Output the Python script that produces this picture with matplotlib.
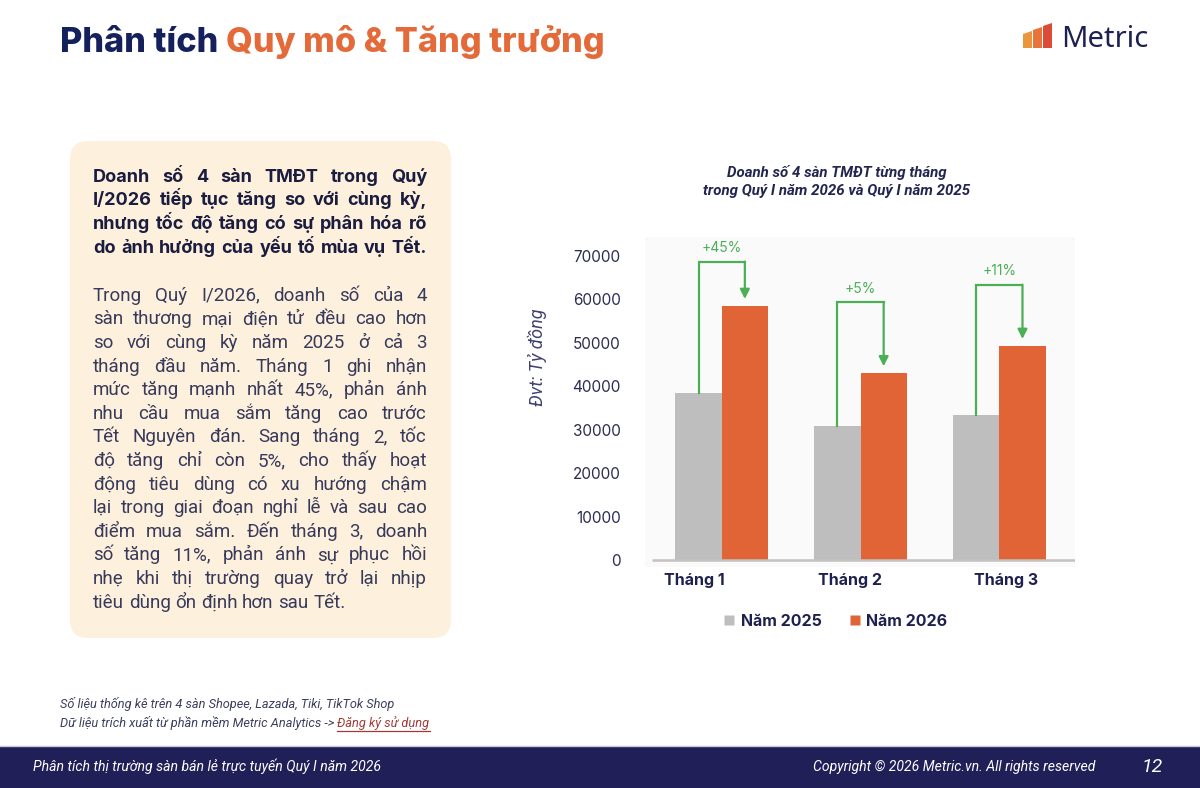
import matplotlib
matplotlib.use("Agg")
import matplotlib.pyplot as plt
import numpy as np
from matplotlib.patches import FancyBboxPatch, Rectangle, Polygon
from matplotlib.lines import Line2D

# ---------------- data ----------------
months = ["Tháng 1", "Tháng 2", "Tháng 3"]
sales_2025 = [38500, 30900, 33500]
sales_2026 = [58500, 43000, 49300]
growth_labels = ["+45%", "+5%", "+11%"]
series_names = ["Năm 2025", "Năm 2026"]
y_ticks = [0, 10000, 20000, 30000, 40000, 50000, 60000, 70000]

title_part1 = "Phân tích "
title_part2 = "Quy mô & Tăng trưởng"
chart_title_lines = ["Doanh số 4 sàn TMĐT từng tháng",
                     "trong Quý I năm 2026 và Quý I năm 2025"]
y_label = "Đvt: Tỷ đồng"
heading_lines = [
    "Doanh số 4 sàn TMĐT trong Quý",
    "I/2026 tiếp tục tăng so với cùng kỳ,",
    "nhưng tốc độ tăng có sự phân hóa rõ",
    "do ảnh hưởng của yếu tố mùa vụ Tết.",
]
body_lines = [
    "Trong Quý I/2026, doanh số của 4",
    "sàn thương mại điện tử đều cao hơn",
    "so với cùng kỳ năm 2025 ở cả 3",
    "tháng đầu năm. Tháng 1 ghi nhận",
    "mức tăng mạnh nhất 45%, phản ánh",
    "nhu cầu mua sắm tăng cao trước",
    "Tết Nguyên đán. Sang tháng 2, tốc",
    "độ tăng chỉ còn 5%, cho thấy hoạt",
    "động tiêu dùng có xu hướng chậm",
    "lại trong giai đoạn nghỉ lễ và sau cao",
    "điểm mua sắm. Đến tháng 3, doanh",
    "số tăng 11%, phản ánh sự phục hồi",
    "nhẹ khi thị trường quay trở lại nhịp",
    "tiêu dùng ổn định hơn sau Tết.",
]
note1 = "Số liệu thống kê trên 4 sàn Shopee, Lazada, Tiki, TikTok Shop"
note2 = "Dữ liệu trích xuất từ phần mềm Metric Analytics -> "
note_link = "Đăng ký sử dụng"
footer_left = "Phân tích thị trường sàn bán lẻ trực tuyến Quý I năm 2026"
footer_right = "Copyright © 2026 Metric.vn. All rights reserved"
page_no = "12"
brand = "Metric"

# ---------------- layout / style ----------------
NAVY = "#14215c"
ORANGE = "#e46a3a"
BAR_ORANGE = "#e06436"
BAR_GRAY = "#bebebe"
GREEN = "#4caf55"
CREAM = "#fdf0dc"
FOOT = "#211f57"
SANS = ["Inter", "DejaVu Sans"]
ITAL = ["Roboto", "DejaVu Sans"]
BODY = ["Roboto", "DejaVu Sans"]

bracket_top = [68700, 59300, 63400]   # annotation bracket heights (layout)
label_dx = [-0.20, -0.077, 0.048]     # x tick label offsets (layout)

W, H = 1200, 788
fig = plt.figure(figsize=(W / 100, H / 100), dpi=100)
fig.patch.set_facecolor("white")
ov = fig.add_axes([0, 0, 1, 1], zorder=0)
ov.set_xlim(0, W)
ov.set_ylim(H, 0)
ov.axis("off")
renderer = fig.canvas.get_renderer()


def width(t):
    return t.get_window_extent(renderer).width


# ---- title ----
t1 = ov.text(60, 52, title_part1, color=NAVY, fontsize=24, fontweight="heavy",
             family=SANS, va="baseline", ha="left")
t2 = ov.text(0, 52, title_part2, color=ORANGE, fontsize=24, fontweight="heavy",
             family=SANS, va="baseline", ha="left")
tot = width(t1) + width(t2)
fs = 24 * 544 / tot
t1.set_fontsize(fs)
t2.set_fontsize(fs)
t2.set_x(60 + width(t1))

# ---- logo ----
logo_cols = ["#e9963d", "#e8733b", "#dc4b35"]
logo_x = [1023, 1033, 1043]
logo_top = [31, 27, 23]
for lx, lt, lc in zip(logo_x, logo_top, logo_cols):
    ov.add_patch(Polygon([[lx, 48], [lx, lt + 3], [lx + 9, lt], [lx + 9, 48]],
                         closed=True, facecolor=lc, edgecolor="none"))
ov.text(1061, 47, brand, color="#1d2150", fontsize=21, family=["Noto Sans", "DejaVu Sans"],
        va="baseline", ha="left")

# ---- left box ----
ov.add_patch(FancyBboxPatch((70, 141), 381, 497,
                            boxstyle="round,pad=0,rounding_size=18",
                            facecolor=CREAM, edgecolor="none"))


def place_line(line, x0, x1, y, justify, **kw):
    words = line.split(" ")
    objs = [ov.text(0, y, w_, va="baseline", ha="left", **kw) for w_ in words]
    ws = [width(o) for o in objs]
    sp = ov.text(0, y, "a a", **kw)
    sp2 = ov.text(0, y, "aa", **kw)
    space = width(sp) - width(sp2)
    sp.remove(); sp2.remove()
    if justify and len(words) > 1:
        gap = (x1 - x0 - sum(ws)) / (len(words) - 1)
    else:
        gap = space
    x = x0
    for o, wd in zip(objs, ws):
        o.set_x(x)
        x += wd + gap


def fit_size(lines, size, maxw, **kw):
    while True:
        ws = []
        for ln in lines:
            t = ov.text(0, 0, ln, fontsize=size, **kw)
            ws.append(width(t))
            t.remove()
        if max(ws) <= maxw or size < 8:
            return size
        size -= 0.1


X0, X1 = 93, 427
hs = fit_size(heading_lines, 13, X1 - X0 - 6, family=SANS, fontweight="bold")
for i, ln in enumerate(heading_lines):
    place_line(ln, X0, X1, 181.5 + i * 23.9, True, fontsize=hs,
               family=SANS, fontweight="bold", color="#1a1c40")
bs = fit_size(body_lines, 13.5, X1 - X0 - 4, family=BODY)
for i, ln in enumerate(body_lines):
    place_line(ln, X0, X1, 300.7 + i * 23.6, i < len(body_lines) - 1,
               fontsize=bs, family=BODY, color="#383a5c")

# ---- notes ----
ov.text(60, 708, note1, fontsize=9.2, style="italic", family=ITAL, color="#3c3e5e",
        va="baseline", ha="left")
n2 = ov.text(60, 727, note2, fontsize=9.2, style="italic", family=ITAL, color="#3c3e5e",
             va="baseline", ha="left")
lx0 = 60 + width(n2)
nl = ov.text(lx0, 727, note_link, fontsize=9.2, style="italic", family=ITAL,
             color="#a33a35", va="baseline", ha="left")
ov.plot([lx0, lx0 + width(nl)], [730.5, 730.5], color="#a33a35", lw=0.9)

# ---- footer ----
ov.add_patch(Rectangle((0, 746), W, 42, facecolor=FOOT, edgecolor="none"))
ov.plot([0, W], [745.5, 745.5], color="#c9c9d6", lw=1)
ov.text(33, 771, footer_left, fontsize=10.1, style="italic", family=ITAL,
        color="white", va="baseline", ha="left")
ov.text(1095, 771, footer_right, fontsize=10.1, style="italic", family=ITAL,
        color="white", va="baseline", ha="right")
ov.text(1152, 772, page_no, fontsize=14, style="italic", family=ITAL, color="white",
        va="baseline", ha="center")

# ---- chart title & y label ----
for k, ln in enumerate(chart_title_lines):
    ov.text(837, 172 + 18.5 * k, ln, fontsize=10.8, fontweight="bold", style="italic",
            family=ITAL, color="#22254f", ha="center", va="center")
ov.text(537, 357, y_label, fontsize=13, style="italic", family=ITAL,
        color="#3f4270", rotation=90, ha="center", va="center")

# ---- chart ----
ax = fig.add_axes([645 / W, 1 - 567 / H, (1075 - 645) / W, (567 - 237) / H], zorder=1)
ax.set_facecolor("#fafafa")
x = np.arange(len(months))
bw = 1 / 3
ax.bar(x - bw / 2, sales_2025, bw, color=BAR_GRAY, zorder=2)
ax.bar(x + bw / 2, sales_2026, bw, color=BAR_ORANGE, zorder=2)
ax.set_xlim(-0.5526, 2.545)
ax.set_ylim(-1612, 74375)
ax.plot([-0.5, 2.545], [0, 0], color="#c2c2c2", lw=1.8, zorder=3, solid_capstyle="butt")
for s in ax.spines.values():
    s.set_visible(False)
ax.set_yticks(y_ticks)
ax.set_yticklabels([str(v) for v in y_ticks], fontsize=11, family=SANS, color="#2b2d52")
ax.tick_params(axis="y", length=0, pad=17.5)
ax.set_xticks(x + np.array(label_dx))
ax.set_xticklabels(months, fontsize=11.5, fontweight="bold", family=SANS, color="#1e2150")
ax.tick_params(axis="x", length=0, pad=4)

for i in range(len(months)):
    xg = x[i] - bw / 2
    xo = x[i] + bw / 2
    top = bracket_top[i]
    ax.plot([xg, xg, xo], [sales_2025[i], top, top], color=GREEN, lw=1.6,
            zorder=4, solid_joinstyle="miter")
    ax.annotate("", xy=(xo, sales_2026[i] + 1600), xytext=(xo, top),
                arrowprops=dict(arrowstyle="-|>", color=GREEN, lw=1.6,
                                mutation_scale=14, shrinkA=0, shrinkB=0),
                zorder=4)
    ax.annotate(growth_labels[i], xy=(x[i], top), xytext=(0, 5),
                textcoords="offset points", ha="center", va="bottom",
                fontsize=10, family=SANS, color=GREEN)

handles = [Line2D([], [], marker="s", linestyle="none", markersize=7,
                  markerfacecolor=c, markeredgecolor="none")
           for c in (BAR_GRAY, BAR_ORANGE)]
leg = fig.legend(handles, series_names, loc="center", ncol=2,
                 bbox_to_anchor=(836 / W, 1 - 621 / H), frameon=False,
                 handlelength=0.6, handletextpad=0.4, columnspacing=1.8,
                 prop=dict(family=SANS, weight="bold", size=11.5))
for t in leg.get_texts():
    t.set_color("#1e2150")

fig.savefig("out.png", dpi=100, facecolor="white")
